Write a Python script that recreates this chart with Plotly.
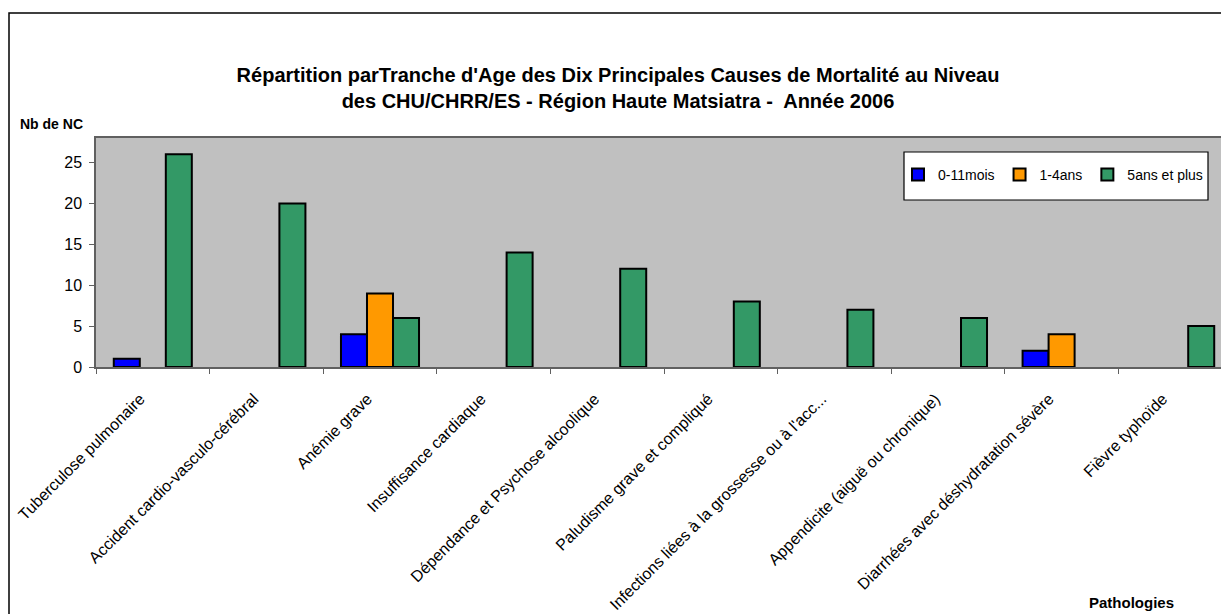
import plotly.graph_objects as go

categories = [
    "Tuberculose pulmonaire",
    "Accident cardio-vasculo-cérébral",
    "Anémie grave",
    "Insuffisance cardiaque",
    "Dépendance et Psychose alcoolique",
    "Paludisme grave et compliqué",
    "Infections liées à la grossesse ou à l'acc...",
    "Appendicite (aiguë ou chronique)",
    "Diarrhées avec déshydratation sévère",
    "Fièvre typhoïde",
]
mois_0_11 = [1, None, 4, None, None, None, None, None, 2, None]
ans_1_4 = [None, None, 9, None, None, None, None, None, 4, None]
ans_5_plus = [26, 20, 6, 14, 12, 8, 7, 6, None, 5]

series_names = ["0-11mois", "1-4ans", "5ans et plus"]
series_values = [mois_0_11, ans_1_4, ans_5_plus]
series_colors = ["#0000FF", "#FF9900", "#339966"]

W, H = 1221, 614
L, R, T, B = 96, 0, 138, 247
PW = W - L - R
PH = H - T - B

def px_x(page_x):
    return (page_x - L) / PW

def px_y(page_y):
    return (H - B - page_y) / PH

FONT = "Arial, Liberation Sans, sans-serif"
NBSP = "\u00a0"

fig = go.Figure()
for name, vals, col in zip(series_names, series_values, series_colors):
    fig.add_trace(go.Bar(
        x=categories, y=vals, name=name,
        marker=dict(color=col, line=dict(color="black", width=2)),
    ))

fig.update_layout(
    width=W, height=H,
    margin=dict(l=L, r=R, t=T, b=B, pad=0),
    paper_bgcolor="white",
    plot_bgcolor="#C0C0C0",
    barmode="group",
    bargap=0.313,
    bargroupgap=0,
    font=dict(family=FONT, size=15, color="black"),
    title=dict(
        text="Répartition parTranche d'Age des Dix Principales Causes de Mortalité au Niveau<br>des CHU/CHRR/ES - Région Haute Matsiatra -  Année 2006",
        font=dict(family=FONT, size=20, color="black", weight="bold"),
        xref="container", x=618 / W, xanchor="center",
        yref="container", y=1 - 81.5 / H, yanchor="middle",
    ),
    showlegend=True,
    legend=dict(
        orientation="h",
        x=px_x(898), xanchor="left",
        y=px_y(175), yanchor="middle",
        bgcolor="rgba(0,0,0,0)",
        borderwidth=0,
        font=dict(family=FONT, size=14, color="black"),
        itemwidth=30,
        traceorder="normal",
    ),
    xaxis=dict(
        type="category",
        range=[-0.5, 9.5 - 11 / 113.6],
        tickson="boundaries",
        ticks="outside", ticklen=5, tickcolor="#606060", tickwidth=1,
        showline=True, linecolor="#606060", linewidth=1.5, mirror=True,
        tickangle=-45,
        ticksuffix=NBSP * 4,
        ticklabelstandoff=2,
        tickfont=dict(family=FONT, size=16, color="black"),
        automargin=False,
        showgrid=False,
    ),
    yaxis=dict(
        range=[0, 28],
        dtick=5,
        ticks="outside", ticklen=5, tickcolor="#606060", tickwidth=1,
        showline=True, linecolor="#606060", linewidth=1.5, mirror=False,
        ticklabelstandoff=4,
        tickfont=dict(family=FONT, size=16, color="black"),
        showgrid=False, zeroline=False,
        automargin=False,
    ),
)

# legend box
fig.add_shape(type="rect", xref="paper", yref="paper",
              x0=px_x(904), x1=px_x(1208), y0=px_y(200), y1=px_y(152),
              fillcolor="white", line=dict(color="black", width=1.2), layer="above")
# outer chart border
fig.add_shape(type="rect", xref="paper", yref="paper",
              x0=px_x(9), x1=px_x(1250), y0=px_y(640), y1=px_y(13),
              fillcolor="rgba(0,0,0,0)", line=dict(color="black", width=1.5), layer="above")

fig.add_annotation(text="<b>Nb de NC</b>", xref="paper", yref="paper",
                   x=px_x(51), y=px_y(124), xanchor="center", yanchor="middle",
                   showarrow=False, font=dict(family=FONT, size=14, color="black"))
fig.add_annotation(text="<b>Pathologies</b>", xref="paper", yref="paper",
                   x=px_x(1131), y=px_y(602), xanchor="center", yanchor="middle",
                   showarrow=False, font=dict(family=FONT, size=15, color="black"))

fig.write_html(
    "out.html",
    config={"displayModeBar": False},
    post_script="document.body.style.margin='0px';document.body.style.overflow='hidden';",
)
